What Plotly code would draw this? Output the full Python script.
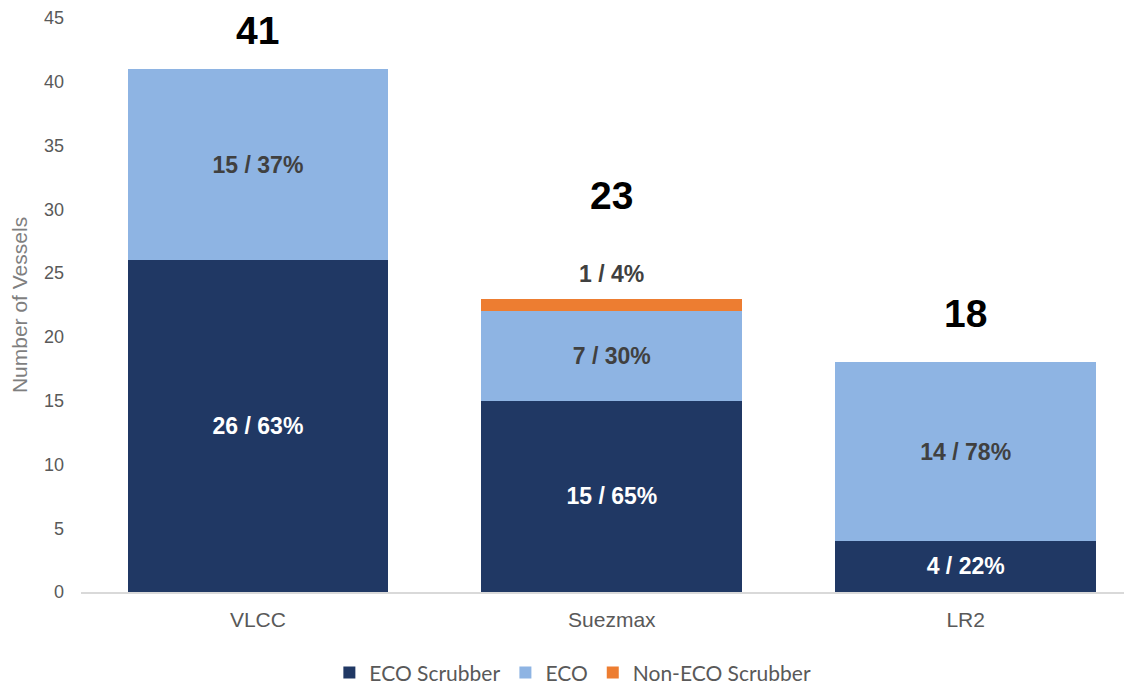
import plotly.graph_objects as go

categories = ["VLCC", "Suezmax", "LR2"]
eco_scrubber = [26, 15, 4]
eco = [15, 7, 14]
non_eco_scrubber = [0, 1, 0]
eco_scrubber_labels = ["26 / 63%", "15 / 65%", "4 / 22%"]
eco_labels = ["15 / 37%", "7 / 30%", "14 / 78%"]
non_eco_scrubber_labels = ["", "1 / 4%", ""]
totals = [41, 23, 18]
yticks = [0, 5, 10, 15, 20, 25, 30, 35, 40, 45]

# styling (pixel offsets of the total labels above the bar tops)
total_shift = [39, 103, 49]

BOLD = "Liberation Sans Narrow, Arial Narrow, Liberation Sans, Arial, sans-serif"
REG = "Liberation Sans, Arial, sans-serif"
DARK = "#203864"
LIGHT = "#8EB4E3"
ORANGE = "#ED7D31"

fig = go.Figure()
fig.add_trace(go.Bar(
    name="ECO Scrubber", x=categories, y=eco_scrubber, marker_color=DARK,
    text=eco_scrubber_labels, textposition="inside", insidetextanchor="middle",
    textfont=dict(family=BOLD, size=23, color="white", weight="bold"),
))
fig.add_trace(go.Bar(
    name="ECO", x=categories, y=eco, marker_color=LIGHT,
    text=eco_labels, textposition="inside", insidetextanchor="middle",
    textfont=dict(family=BOLD, size=23, color="#404040", weight="bold"),
))
fig.add_trace(go.Bar(
    name="Non-ECO Scrubber", x=categories, y=non_eco_scrubber, marker_color=ORANGE,
    textposition="none",
))
fig.update_traces(marker_line_width=0, constraintext="none", textangle=0, cliponaxis=False)

for i, cat in enumerate(categories):
    fig.add_annotation(x=cat, y=totals[i], text=str(totals[i]), showarrow=False,
                       yanchor="middle", yshift=total_shift[i], borderpad=0,
                       font=dict(family=BOLD, size=39, color="black", weight="bold"))
    if non_eco_scrubber_labels[i]:
        fig.add_annotation(x=cat, y=totals[i], text=non_eco_scrubber_labels[i], showarrow=False,
                           yanchor="middle", yshift=25,
                           font=dict(family=BOLD, size=23, color="#404040", weight="bold"))

fig.update_layout(
    barmode="stack", bargap=0.263,
    width=1124, height=677,
    margin=dict(l=73, r=0, t=10, b=93, autoexpand=False),
    plot_bgcolor="white", paper_bgcolor="white",
    showlegend=True,
    legend=dict(orientation="h", x=0.468, xanchor="center", y=-0.141, yanchor="middle",
                font=dict(family="Lato, Noto Sans, sans-serif", size=21, color="#595959"),
                itemwidth=30, traceorder="normal"),
    xaxis=dict(range=[-0.5, 2.47], showline=True, linecolor="#D9D9D9", linewidth=1.5,
               automargin=False,
               tickfont=dict(family=REG, size=21, color="#595959"),
               ticklabelstandoff=8,
               ticks="", showgrid=False),
    yaxis=dict(range=[0, 45], tickvals=yticks, showgrid=False, zeroline=False, showline=False,
               automargin=False,
               tickfont=dict(family=REG, size=18, color="#595959"),
               ticklabelstandoff=16,
               title=dict(text="Number of Vessels", standoff=10,
                          font=dict(family=REG, size=21, color="#7F7F7F"))),
)

fig.write_html("out.html")
